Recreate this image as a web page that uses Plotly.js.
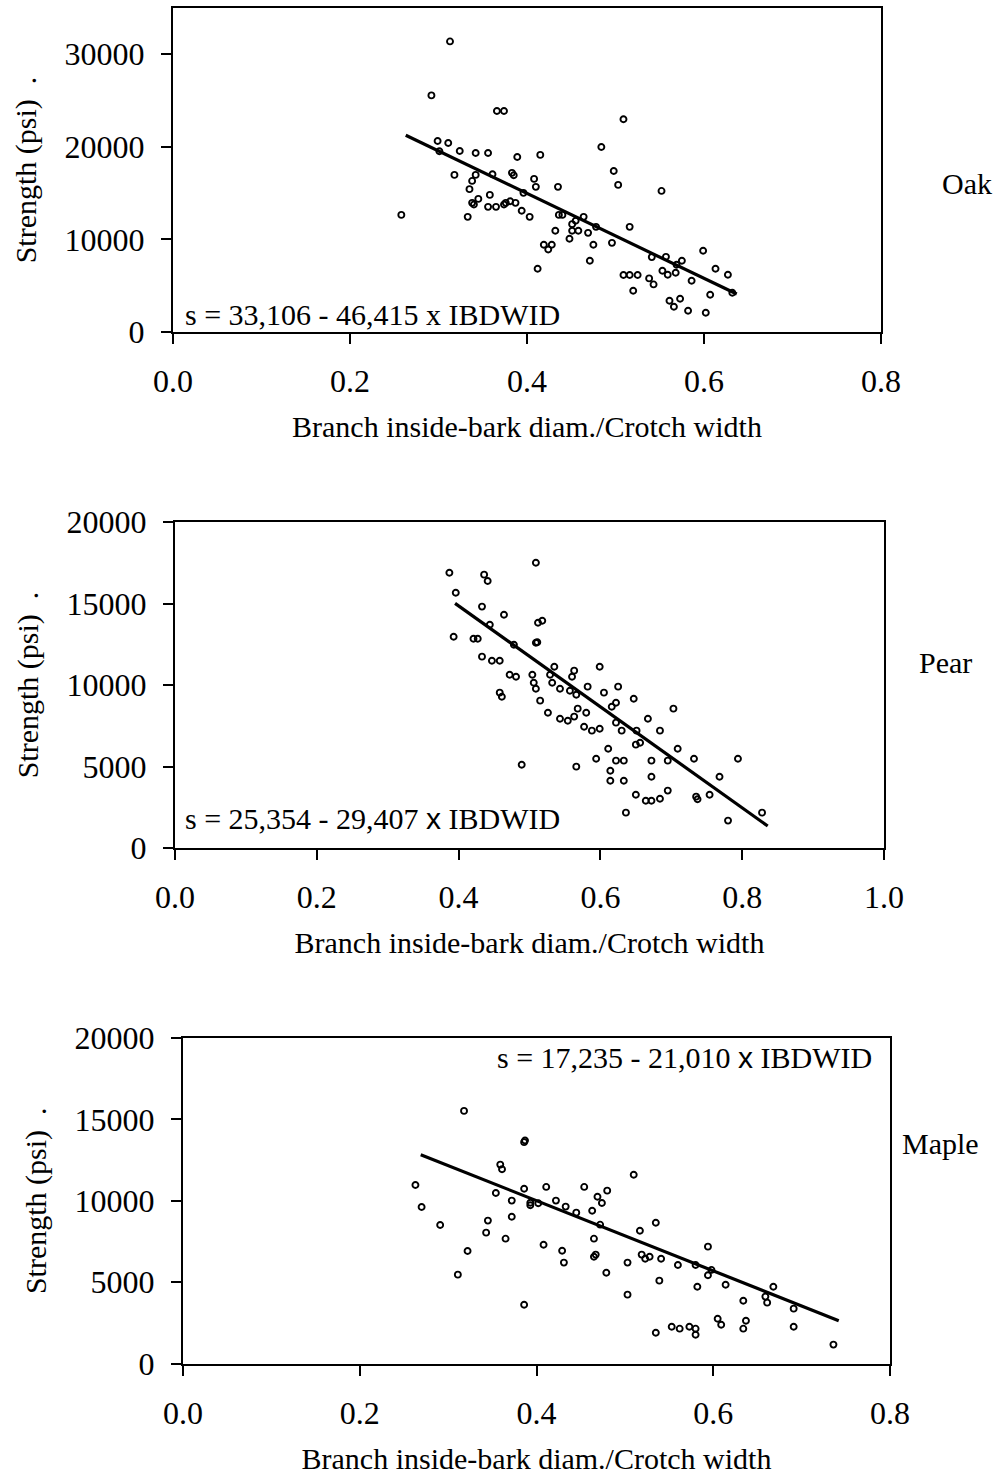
<!DOCTYPE html>
<html>
<head>
<meta charset="utf-8">
<script src="https://cdn.plot.ly/plotly-3.0.1.min.js"></script>
<style>html,body{margin:0;padding:0;background:#fff;}</style>
</head>
<body>
<div id="chart" style="width:1000px;height:1475px;"></div>
<script>
// ---------- Data ----------
const speciesNames = ["Oak", "Pear", "Maple"];
const xTitle = "Branch inside-bark diam./Crotch width";
const yTitle = "Strength (psi)\u00a0\u00a0.";
const equations = [
  "s = 33,106 - 46,415 x IBDWID",
  "s = 25,354 - 29,407 <span style=\"font-family:'Liberation Sans',Arial,sans-serif\">x</span> IBDWID",
  "s = 17,235 - 21,010 <span style=\"font-family:'Liberation Sans',Arial,sans-serif\">x</span> IBDWID"
];

const oakX = [0.313,0.292,0.366,0.374,0.509,0.299,0.311,0.301,0.324,0.342,0.356,0.389,0.415,0.484,0.318,0.342,0.338,0.361,0.383,0.385,0.408,0.410,0.435,0.498,0.503,0.335,0.358,0.396,0.338,0.340,0.345,0.356,0.365,0.374,0.376,0.381,0.387,0.394,0.403,0.333,0.258,0.436,0.440,0.451,0.455,0.464,0.432,0.451,0.458,0.448,0.469,0.475,0.478,0.496,0.516,0.419,0.424,0.428,0.471,0.412,0.509,0.516,0.525,0.520,0.538,0.543,0.541,0.552,0.557,0.553,0.559,0.568,0.575,0.569,0.586,0.599,0.613,0.627,0.607,0.632,0.561,0.566,0.573,0.582,0.602];
const oakY = [31390,25560,23870,23870,22980,20640,20420,19520,19560,19340,19340,18910,19130,19990,16970,16970,16320,17040,17190,16940,16540,15680,15680,17400,15890,15430,14810,15030,13950,13770,14380,13520,13520,13770,13950,14130,13950,13090,12440,12440,12650,12650,12650,11650,12010,12440,10930,10930,10930,10070,10710,9420,11360,9630,11360,9420,8920,9420,7690,6830,6150,6150,6150,4460,5790,5140,8090,15240,8120,6610,6180,6400,7690,7260,5530,8770,6830,6180,4020,4240,3380,2730,3590,2300,2080];
const oakLineX = [0.263, 0.637];
const oakLineY = [21250, 4100];

const pearX = [0.387,0.509,0.436,0.441,0.396,0.433,0.464,0.512,0.518,0.444,0.393,0.421,0.427,0.478,0.509,0.511,0.433,0.447,0.458,0.472,0.481,0.504,0.506,0.509,0.535,0.529,0.532,0.563,0.560,0.543,0.557,0.566,0.582,0.599,0.605,0.625,0.622,0.616,0.458,0.461,0.515,0.526,0.568,0.563,0.580,0.543,0.554,0.577,0.588,0.599,0.622,0.630,0.611,0.594,0.622,0.633,0.614,0.614,0.633,0.489,0.566,0.636,0.647,0.703,0.667,0.651,0.684,0.650,0.656,0.672,0.695,0.709,0.732,0.794,0.672,0.768,0.650,0.664,0.672,0.684,0.695,0.735,0.737,0.754,0.828,0.780];
const pearY = [16890,17500,16770,16380,15660,14810,14310,13820,13940,13700,12960,12840,12840,12470,12590,12620,11740,11490,11490,10630,10510,10630,10140,9770,11120,10630,10140,10880,10510,9770,9650,9400,9900,11120,9530,9900,8910,8670,9530,9280,9040,8300,8550,8060,8300,7930,7810,7440,7200,7320,7690,7200,6090,5480,5360,5360,4740,4130,4130,5110,4990,2170,9160,8550,7930,7200,7200,6340,6460,5360,5360,6090,5480,5480,4370,4370,3270,2900,2900,3020,3520,3150,2990,3270,2170,1680];
const pearLineX = [0.395, 0.836];
const pearLineY = [15010, 1350];

const mapleX = [0.318,0.386,0.387,0.359,0.361,0.263,0.270,0.291,0.354,0.386,0.411,0.454,0.372,0.393,0.393,0.402,0.422,0.433,0.445,0.469,0.474,0.480,0.463,0.472,0.345,0.372,0.343,0.365,0.322,0.408,0.429,0.431,0.465,0.465,0.467,0.479,0.311,0.386,0.510,0.535,0.517,0.519,0.523,0.528,0.541,0.503,0.560,0.580,0.594,0.594,0.598,0.539,0.582,0.614,0.503,0.634,0.659,0.661,0.668,0.691,0.605,0.609,0.637,0.634,0.691,0.535,0.553,0.562,0.573,0.580,0.580,0.736];
const mapleY = [15520,13600,13700,12220,11940,10970,9620,8510,10480,10740,10850,10850,10010,9880,9720,9850,10010,9640,9270,10250,9860,10620,9390,8530,8780,9020,8040,7670,6910,7300,6930,6200,7670,6560,6690,5580,5460,3610,11600,8650,8160,6690,6440,6560,6440,6200,6050,6050,7180,5420,5750,5090,4720,4840,4230,3860,4110,3740,4720,3370,2750,2380,2630,2140,2260,1890,2260,2140,2260,2140,1770,1160];
const mapleLineX = [0.269, 0.742];
const mapleLineY = [12830, 2630];

const xRanges = [[0, 0.8], [0, 1.0], [0, 0.8]];
const yRanges = [[0, 35000], [0, 20000], [0, 20000]];
const yDticks = [10000, 5000, 5000];

// ---------- Layout helpers (pixel boxes) ----------
const W = 1000, H = 1475;
const boxes = [
  {l: 173, r: 881, t: 8, b: 332},
  {l: 175, r: 884, t: 522, b: 848},
  {l: 183, r: 890, t: 1038, b: 1363.5}
];
const FONT = "'Liberation Serif','Times New Roman',Times,serif";

const scatterX = [oakX, pearX, mapleX];
const scatterY = [oakY, pearY, mapleY];
const lineX = [oakLineX, pearLineX, mapleLineX];
const lineY = [oakLineY, pearLineY, mapleLineY];

const traces = [];
const layout = {
  width: W, height: H,
  margin: {l: 0, r: 0, t: 0, b: 0},
  paper_bgcolor: "#fff", plot_bgcolor: "#fff",
  showlegend: false,
  font: {family: FONT, color: "#000", size: 30},
  annotations: []
};

for (let i = 0; i < 3; i++) {
  const sfx = i === 0 ? "" : String(i + 1);
  const xa = "x" + sfx, ya = "y" + sfx;
  traces.push({
    type: "scatter", mode: "markers", x: scatterX[i], y: scatterY[i],
    xaxis: xa, yaxis: ya,
    marker: {symbol: "circle-open", size: 6, color: "#000", line: {width: 1.9, color: "#000"}},
    hoverinfo: "x+y"
  });
  traces.push({
    type: "scatter", mode: "lines", x: lineX[i], y: lineY[i],
    xaxis: xa, yaxis: ya,
    line: {color: "#000", width: 3.2}, hoverinfo: "skip"
  });
  const b = boxes[i];
  const common = {
    showline: true, linewidth: 2, linecolor: "#000", mirror: true,
    ticks: "outside", ticklen: 10, tickwidth: 2, tickcolor: "#000",
    showgrid: false, zeroline: false, fixedrange: true,
    tickfont: {family: FONT, size: 32, color: "#000"}
  };
  layout["xaxis" + sfx] = Object.assign({}, common, {
    domain: [b.l / W, b.r / W], anchor: ya,
    range: xRanges[i], dtick: 0.2, tick0: 0, tickformat: ".1f",
    ticklabelstandoff: 10,
    title: {text: xTitle, font: {family: FONT, size: 30, color: "#000"}, standoff: 18}
  });
  layout["yaxis" + sfx] = Object.assign({}, common, {
    domain: [1 - b.b / H, 1 - b.t / H], anchor: xa,
    range: yRanges[i], dtick: yDticks[i], tick0: 0, tickformat: "d",
    ticklabelstandoff: 10,
    title: {text: yTitle, font: {family: FONT, size: 30, color: "#000"}, standoff: 19}
  });
  // species label on right
  layout.annotations.push({
    xref: "paper", yref: "paper", showarrow: false,
    x: [967, 945, 940][i] / W, y: 1 - [183, 662, 1143][i] / H,
    xanchor: "center", yanchor: "middle",
    text: speciesNames[i], font: {family: FONT, size: 30, color: "#000"}
  });
}
// equations
layout.annotations.push({
  xref: "paper", yref: "paper", showarrow: false,
  x: 183 / W, y: 1 - 315 / H, xanchor: "left", yanchor: "middle",
  text: equations[0], font: {family: FONT, size: 30, color: "#000"}
});
layout.annotations.push({
  xref: "paper", yref: "paper", showarrow: false,
  x: 183 / W, y: 1 - 818 / H, xanchor: "left", yanchor: "middle",
  text: equations[1], font: {family: FONT, size: 30, color: "#000"}
});
layout.annotations.push({
  xref: "paper", yref: "paper", showarrow: false,
  x: 874 / W, y: 1 - 1057 / H, xanchor: "right", yanchor: "middle",
  text: equations[2], font: {family: FONT, size: 30, color: "#000"}
});

Plotly.newPlot("chart", traces, layout, {staticPlot: true, displayModeBar: false});
</script>
</body>
</html>
